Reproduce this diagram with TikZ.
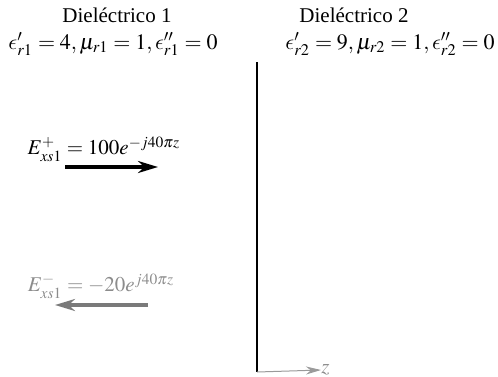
\documentclass[tikz,border=0pt]{standalone}
\usepackage{mathptmx}
\usepackage{fontspec}
\setmainfont{Liberation Serif}
\DeclareSymbolFont{cmletters}{OML}{cmm}{m}{it}
\DeclareMathSymbol{\lunate}{\mathord}{cmletters}{"0F}
\usepackage{tikz}
\usetikzlibrary{arrows.meta,positioning}
\definecolor{wavegray}{HTML}{7A7A7A}
\definecolor{txtgray}{HTML}{8C8C8C}
\definecolor{axisgray}{HTML}{9A9A9A}

\begin{document}
\begin{tikzpicture}[x=0.5pt,y=-0.5pt,
  lbl/.style={inner sep=0pt,font=\fontsize{10.5}{12}\selectfont},
  prm/.style={inner sep=0pt,font=\fontsize{11}{13}\selectfont},
  fwd/.style={-{Stealth[length=10pt,width=6pt]},line width=1.6pt,draw=black},
  bwd/.style={-{Stealth[length=10pt,width=6pt]},line width=1.6pt,draw=wavegray},
  ax/.style={-{Stealth[length=7.5pt,width=4pt]},line width=0.5pt,draw=axisgray}
]
\useasboundingbox (0,0) rectangle (498,376);
% medio 1 e medio 2
\node[lbl] (d1) at (117,15) {Dieléctrico 1};
\node[prm] (m1) at (113,44) {$\lunate'_{r1}=4, \mu_{r1}=1, \lunate''_{r1}=0$};
\node[lbl] (d2) at (354,15) {Dieléctrico 2};
\node[prm] (m2) at (390,44) {$\lunate'_{r2}=9, \mu_{r2}=1, \lunate''_{r2}=0$};
% interfaccia
\coordinate (top) at (257,62);
\coordinate (bot) at (257,372);
\draw[line width=1pt] (top) -- (bot);
\node[lbl,text=txtgray,anchor=west] (z) at (321,370) {$z$};
\draw[ax] (bot) -- (z.west);
% onda incidente
\node[lbl] (einc) at (104,149) {$E^+_{xs1}=100e^{-j40\pi z}$};
\coordinate (a1) at (65,167);
\coordinate (b1) at (158,167);
\draw[fwd] (a1) -- (b1);
% onda riflessa
\node[lbl,text=txtgray] (eref) at (101,286) {$E^-_{xs1}=-20e^{j40\pi z}$};
\coordinate (a2) at (148,305);
\coordinate (b2) at (55,305);
\draw[bwd] (a2) -- (b2);
\end{tikzpicture}
\end{document}
